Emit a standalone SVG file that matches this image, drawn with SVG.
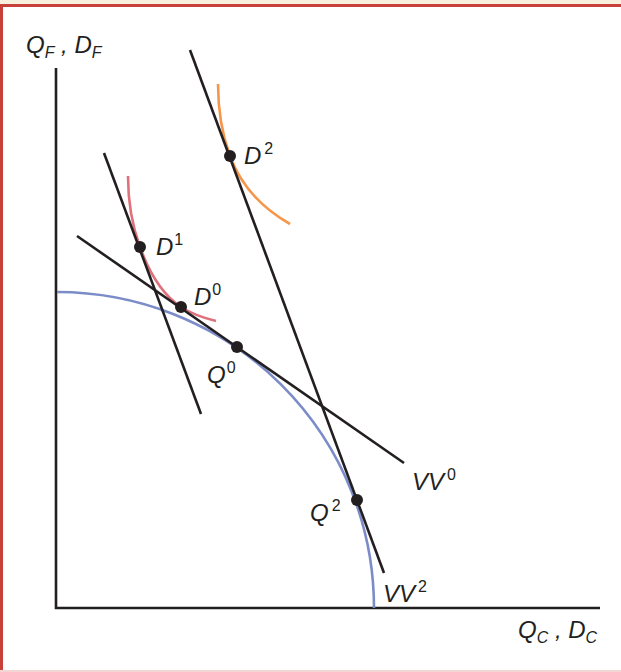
<svg xmlns="http://www.w3.org/2000/svg" width="621" height="672" viewBox="0 0 621 672">
<style>
.lbl{font-family:"Liberation Sans",Arial,sans-serif;font-style:italic;font-size:24px;fill:#231f20}
.sup{font-size:16px;font-style:normal}
.sub{font-size:16px}
.ln{stroke:#231f20;stroke-width:2.6;fill:none;stroke-linecap:butt}
.dot{fill:#231f20}
</style>
<rect x="0" y="0" width="621" height="672" fill="#ffffff"/>
<rect x="0" y="0" width="621" height="4" fill="#f6f0dc"/>
<rect x="0" y="4" width="621" height="3" fill="#c8403a"/>
<rect x="0" y="4" width="3" height="668" fill="#c8403a"/>
<rect x="0" y="670" width="621" height="2" fill="#f3d6d4"/>
<g id="axes">
<path class="ln" d="M56,68 V608 H600" stroke-width="3"/>
</g>
<g id="ppf">
<path d="M57,292 A317,316 0 0 1 374,608" fill="none" stroke="#7b8cc8" stroke-width="2.6"/>
</g>
<g id="indiff-1">
<path d="M128,176 C128,205 133,228 140,247 C150,275 163,295 181,307 C193,315 204,318 216,321" fill="none" stroke="#e0707a" stroke-width="2.6"/>
</g>
<g id="indiff-2">
<path d="M218,84 C218,115 223,137 230,156 C241,186 262,208 290,224" fill="none" stroke="#f5964a" stroke-width="2.6"/>
</g>
<g id="connectors">
<line class="ln" x1="77" y1="236" x2="404" y2="463"/>
<line class="ln" x1="190" y1="50" x2="384" y2="573"/>
<line class="ln" x1="104" y1="153" x2="201" y2="414"/>
</g>
<g id="points">
<circle class="dot" cx="230" cy="156" r="6"/>
<circle class="dot" cx="140" cy="247" r="6"/>
<circle class="dot" cx="181" cy="307" r="6"/>
<circle class="dot" cx="237" cy="347" r="6"/>
<circle class="dot" cx="357" cy="500" r="6"/>
</g>
<g id="labels">
<text class="lbl" x="26" y="53">Q<tspan class="sub" dy="5">F</tspan><tspan dy="-5"> , D</tspan><tspan class="sub" dy="5">F</tspan></text>
<text class="lbl" x="518" y="638">Q<tspan class="sub" dy="5">C</tspan><tspan dy="-5"> , D</tspan><tspan class="sub" dy="5">C</tspan></text>
<text class="lbl" x="244" y="164">D<tspan class="sup" dx="3" dy="-10">2</tspan></text>
<text class="lbl" x="156" y="255">D<tspan class="sup" dx="1" dy="-10">1</tspan></text>
<text class="lbl" x="194" y="305">D<tspan class="sup" dx="1" dy="-10">0</tspan></text>
<text class="lbl" x="207" y="383">Q<tspan class="sup" dx="1" dy="-10">0</tspan></text>
<text class="lbl" x="412" y="490">VV<tspan class="sup" dx="3" dy="-10">0</tspan></text>
<text class="lbl" x="310" y="521">Q<tspan class="sup" dx="3" dy="-10">2</tspan></text>
<text class="lbl" x="383" y="602">VV<tspan class="sup" dx="3" dy="-10">2</tspan></text>
</g>
</svg>
